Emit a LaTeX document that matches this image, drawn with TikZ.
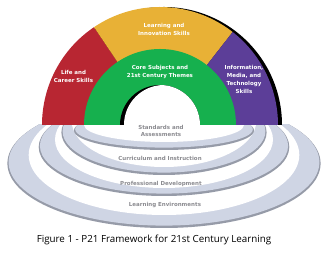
\documentclass[tikz,border=0pt]{standalone}
\usepackage{fontspec}
\setmainfont{Open Sans}
\newfontfamily\labfont{DejaVu Sans}
\definecolor{p21red}{RGB}{184,38,50}
\definecolor{p21yellow}{RGB}{232,177,54}
\definecolor{p21purple}{RGB}{92,62,152}
\definecolor{p21green}{RGB}{22,176,78}
\definecolor{ringlight}{RGB}{207,213,228}
\definecolor{ringdark}{RGB}{150,155,168}
\definecolor{ringtext}{RGB}{140,140,145}
\tikzset{
  archlab/.style={text=white, font=\labfont\bfseries\fontsize{5.5}{8}\selectfont, align=center, inner sep=0pt},
  ringlab/.style={text=ringtext, font=\labfont\bfseries\fontsize{5.5}{7.8}\selectfont, align=center, inner sep=0pt},
  captlab/.style={text=black, font=\fontsize{9.8}{11}\selectfont, inner sep=0pt}
}
\begin{document}
\begin{tikzpicture}[x=1pt,y=1pt]
\fill[white] (-160,-128) rectangle (170,125);
\useasboundingbox (-160,-128) rectangle (170,125);
% rings (outer dark edge, light top, white inside)
\begin{scope}
  \clip (-160,0) rectangle (170,-128);
  \fill[ringdark]  (4,-38.4) ellipse [x radius=156.6, y radius=64.6];
  \fill[ringlight] (4,-37.2) ellipse [x radius=155.4, y radius=63.4];
  \fill[white]     (4,-30)   ellipse [x radius=135.3, y radius=60];
  \fill[ringdark]  (4,-22)   ellipse [x radius=125.3, y radius=49];
  \fill[ringlight] (4,-20.8) ellipse [x radius=124.1, y radius=47.8];
  \fill[white]     (4,-14.5) ellipse [x radius=109, y radius=48.5];
  \fill[ringdark]  (4,-7.5)  ellipse [x radius=102.6, y radius=42.5];
  \fill[ringlight] (4,-6.3)  ellipse [x radius=101.4, y radius=41.3];
  \fill[white]     (4,4)     ellipse [x radius=92.3, y radius=46];
  \fill[ringdark]  (4,-5.5)  ellipse [x radius=90, y radius=19.5];
  \fill[ringlight] (4,-4.3)  ellipse [x radius=88.8, y radius=18.3];
  \fill[white]     (4,0)     ellipse [x radius=80, y radius=17];
\end{scope}
% arch shadow
\fill[black] (122,0) arc (0:180:118) -- cycle;
% arch sectors
\fill[p21red]    (0,0) -- (180:118) arc (180:124:118) -- cycle;
\fill[p21yellow] (0,0) -- (124:118) arc (124:52:118) -- cycle;
\fill[p21purple] (0,0) -- (52:118) arc (52:0:118) -- cycle;
\fill[p21green]  (76,0) arc (0:180:76) -- cycle;
% hole with inner shadow
\begin{scope}
  \clip (40,0) arc (0:180:40) -- cycle;
  \fill[black] (-41,0) rectangle (41,41);
  \fill[white] (4,0) circle (40);
\end{scope}
% labels
\node[archlab] (learn) at (4,96) {Learning and\\Innovation Skills};
\node[archlab] (core) at (0,53) {Core Subjects and\\21st Century Themes};
\node[archlab] (life) at (-86.5,48.5) {Life and\\Career Skills};
\node[archlab] (info) at (84,45.5) {Information,\\Media, and\\Technology\\Skills};
\node[ringlab] (stand) at (1,-6) {Standards and\\Assessments};
\node[ringlab] (curr) at (0,-33.5) {Curriculum and Instruction};
\node[ringlab] (prof) at (1,-58.5) {Professional Development};
\node[ringlab] (env) at (5,-80) {Learning Environments};
\node[captlab] (cap) at (-6,-115) {Figure 1 - P21 Framework for 21st Century Learning};
\end{tikzpicture}
\end{document}
